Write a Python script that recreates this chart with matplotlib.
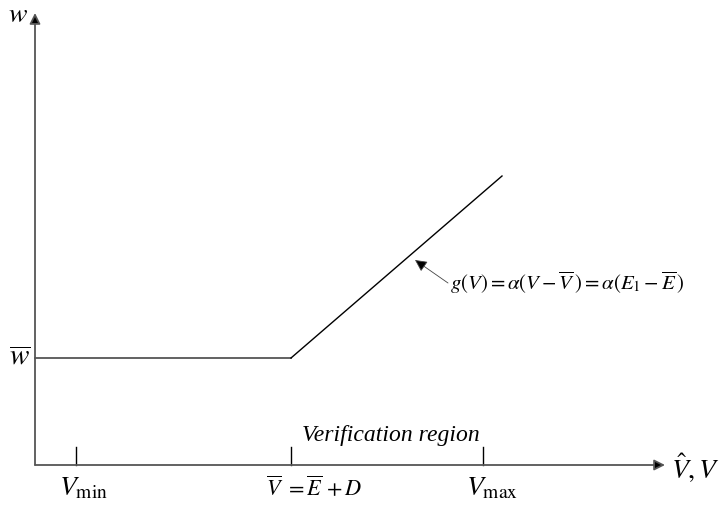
import matplotlib.pyplot as plt

plt.rcParams['mathtext.fontset'] = 'stix'
plt.rcParams['font.family'] = ['Liberation Serif', 'DejaVu Serif']

# schematic values (axis units, origin at the axes crossing)
x_end, y_end = 630, 452          # arrow tips of the two axes
v_min, v_bar, v_max = 41, 256, 448
w_bar = 107
g_end = (467, 289)               # where the g(V) line stops
tick_h = 18

fig = plt.figure(figsize=(7.23, 5.07), dpi=100)
ax = fig.add_axes([0, 0, 1, 1])
ax.set_xlim(-35, 688)
ax.set_ylim(-42, 465)
ax.axis('off')

axis_col = '#555555'
# axes with arrow heads
ax.annotate('', xy=(x_end, 0), xytext=(0, 0),
            arrowprops=dict(arrowstyle='-|>', color=axis_col, lw=1.3,
                            mutation_scale=16, fc='black', ec=axis_col, shrinkA=0, shrinkB=0))
ax.annotate('', xy=(0, y_end), xytext=(0, 0),
            arrowprops=dict(arrowstyle='-|>', color=axis_col, lw=1.3,
                            mutation_scale=16, fc='black', ec=axis_col, shrinkA=0, shrinkB=0))

# ticks on the V axis
for xv in [v_min, v_bar, v_max]:
    ax.plot([xv, xv], [0, tick_h], color='black', lw=1)

# the wage curve
ax.plot([0, v_bar], [w_bar, w_bar], color=axis_col, lw=1.3)
ax.plot([v_bar, g_end[0]], [w_bar, g_end[1]], color='black', lw=1)

ax.text(-17, 449, r'$w$', fontsize=20, ha='center', va='center')
ax.text(-15, w_bar, r'$\overline{w}$', fontsize=21, ha='center', va='center')
ax.text(v_min + 7, -24, r'$V_{\min}$', fontsize=20, ha='center', va='center')
ax.text(v_bar + 23, -24, r'$\overline{V}\ =\overline{E}\,+D$', fontsize=16, ha='center', va='center')
ax.text(v_max + 9, -24, r'$V_{\max}$', fontsize=20, ha='center', va='center')
ax.text(x_end + 30, -3, r'$\hat{V},V$', fontsize=20, ha='center', va='center')
ax.text(v_bar + 100, 29, 'Verification region', fontsize=17, style='italic',
        ha='center', va='center')

# pointer to the sloped part and its formula
ax.annotate('', xy=(380, 205), xytext=(413, 182),
            arrowprops=dict(arrowstyle='-|>', color='#444444', lw=0.6,
                            mutation_scale=18, fc='black', shrinkA=0, shrinkB=0))
ax.text(415, 182, r'$g(V)=\alpha(V-\overline{V}\,)=\alpha(E_1-\overline{E}\,)$',
        fontsize=15, ha='left', va='center')

fig.savefig('out.png', dpi=100)
